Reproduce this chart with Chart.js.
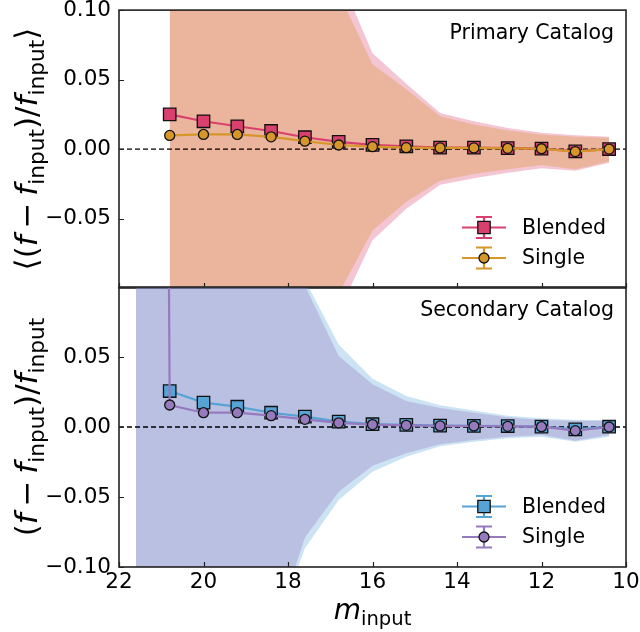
<!DOCTYPE html>
<html>
<head>
<meta charset="utf-8">
<script src="https://cdn.jsdelivr.net/npm/chart.js@4.4.1/dist/chart.umd.min.js"></script>
<style>
html, body { margin: 0; padding: 0; background: #fff; }
#wrap { position: relative; width: 640px; height: 632px; }
#wrap canvas { position: absolute; left: 0; top: 0; }
</style>
</head>
<body>
<div id="wrap">
<canvas id="primaryChart" width="640" height="632"></canvas>
<canvas id="secondaryChart" width="640" height="632"></canvas>
</div>
<script>
// input magnitude bins (x)
const mags = [21.6, 20.8, 20.0, 19.2, 18.4, 17.6, 16.8, 16.0, 15.2, 14.4, 13.6, 12.8, 12.0, 11.2, 10.4];
const xTicks = [22, 20, 18, 16, 14, 12, 10];
const yTicksPrimary = [-0.05, 0, 0.05, 0.10];
const yTicksSecondary = [-0.10, -0.05, 0, 0.05];

// Primary catalog: mean offsets and scatter bands
const primaryBlended = [null, 0.025, 0.020, 0.0164, 0.013, 0.0085, 0.0052, 0.003, 0.002, 0.001, 0.001, 0.0007, 0.0003, -0.0017, 0.0];
const primarySingle = [null, 0.0098, 0.0105, 0.0105, 0.0088, 0.0057, 0.0029, 0.0017, 0.001, 0.0008, 0.0008, 0.0005, 0.0002, -0.0018, 0.0];
const primaryBlendedUpper = [null, 2.0, 1.4, 0.95, 0.6, 0.32, 0.126, 0.069, 0.047, 0.026, 0.020, 0.0152, 0.0117, 0.010, 0.0088];
const primaryBlendedLower = [null, -2.0, -1.4, -0.95, -0.6, -0.31, -0.117, -0.0657, -0.043, -0.0257, -0.021, -0.017, -0.0138, -0.0157, -0.0098];
const primarySingleUpper = [null, 1.7, 1.2, 0.8, 0.5, 0.27, 0.112, 0.061, 0.043, 0.0236, 0.0176, 0.0133, 0.0105, 0.0088, 0.0081];
const primarySingleLower = [null, -1.7, -1.2, -0.8, -0.5, -0.26, -0.104, -0.0586, -0.038, -0.0229, -0.018, -0.0145, -0.0114, -0.0145, -0.009];

// Secondary catalog
const secondaryBlended = [null, 0.0257, 0.0174, 0.0145, 0.0102, 0.0074, 0.0038, 0.002, 0.0015, 0.001, 0.0008, 0.0007, 0.0003, -0.0017, 0.0002];
const secondarySingle = [4.0, 0.0157, 0.0102, 0.0102, 0.0081, 0.0055, 0.003, 0.0017, 0.0012, 0.0008, 0.0007, 0.0005, 0.0002, -0.0026, 0.0];
const secondaryBlendedUpper = [6, 5, 3, 1.5, 0.5, 0.105, 0.059, 0.0345, 0.0221, 0.0155, 0.0117, 0.0081, 0.0062, 0.005, 0.005];
const secondaryBlendedLower = [-6, -5, -3, -1.5, -0.154, -0.0866, -0.0521, -0.0319, -0.0212, -0.0137, -0.0105, -0.0081, -0.0069, -0.0105, -0.0069];
const secondarySingleUpper = [6, 5, 3, 1.5, 0.4, 0.101, 0.0507, 0.0305, 0.0186, 0.0135, 0.0102, 0.0069, 0.005, 0.0045, 0.0045];
const secondarySingleLower = [-6, -5, -3, -1.5, -0.152, -0.079, -0.0462, -0.0276, -0.0188, -0.0123, -0.0093, -0.0069, -0.0057, -0.0098, -0.0057];

const FONT = "'DejaVu Sans', sans-serif";
const TICK_SIZE = 21.5;
const xMin = 10, xMax = 22;

const pts = ys => mags.map((m, i) => ({ x: m, y: ys[i] }));
const rgba = (c, a) => `rgba(${c[0]},${c[1]},${c[2]},${a})`;

function fmtTick(v) {
  if (Math.abs(v) < 1e-9) return '0.00';
  return (v < 0 ? '\u2212' : '') + Math.abs(v).toFixed(2);
}

function band(upper, lower, color, alpha, order) {
  return [
    { data: pts(upper), fill: '+1', backgroundColor: rgba(color, alpha), borderColor: 'rgba(0,0,0,0)', borderWidth: 0, pointRadius: 0, order },
    { data: pts(lower), fill: false, borderColor: 'rgba(0,0,0,0)', borderWidth: 0, pointRadius: 0, order }
  ];
}

function series(ys, color, style, radius, order) {
  return {
    data: pts(ys), borderColor: rgba(color, 1), borderWidth: 2.2, tension: 0, fill: false,
    pointStyle: style, pointRadius: radius, pointBackgroundColor: rgba(color, 1),
    pointBorderColor: '#111', pointBorderWidth: 1.3, order
  };
}

function zeroLine() {
  return { data: [{ x: xMax, y: 0 }, { x: xMin, y: 0 }], borderColor: '#000', borderWidth: 1.3,
           borderDash: [5, 3], pointRadius: 0, fill: false, order: 5 };
}

// math-style text: runs of {t, it, sub, gap}
function drawMath(ctx, runs, size, x, y, rotate) {
  const sub = size * 0.7;
  const fontOf = r => `${r.it ? 'italic ' : ''}${r.sub ? sub : size}px ${FONT}`;
  let total = 0;
  runs.forEach(r => { ctx.font = fontOf(r); total += ctx.measureText(r.t).width + (r.gap || 0) * size; });
  ctx.save();
  ctx.translate(x, y);
  if (rotate) ctx.rotate(-Math.PI / 2);
  ctx.fillStyle = '#000';
  ctx.textBaseline = 'alphabetic';
  ctx.textAlign = 'left';
  let cx = -total / 2;
  runs.forEach(r => {
    ctx.font = fontOf(r);
    const g = (r.gap || 0) * size;
    ctx.fillText(r.t, cx + g / 2, r.sub ? size * 0.22 : 0);
    cx += ctx.measureText(r.t).width + g;
  });
  ctx.restore();
}

const fracRuns = [
  { t: '(' }, { t: 'f', it: true }, { t: '\u2212', gap: 0.44 }, { t: 'f', it: true }, { t: 'input', sub: true },
  { t: ')' }, { t: '/' }, { t: 'f', it: true }, { t: 'input', sub: true }
];

const overlay = {
  id: 'overlay',
  afterDraw(chart, args, o) {
    const { ctx, chartArea: a, scales } = chart;
    ctx.save();
    ctx.strokeStyle = '#222';
    ctx.lineWidth = 1.2;
    ctx.beginPath();
    xTicks.forEach(v => {
      const px = Math.round(scales.x.getPixelForValue(v)) + 0.5;
      ctx.moveTo(px, a.bottom); ctx.lineTo(px, a.bottom - 5);
    });
    o.yTicks.forEach(v => {
      const py = Math.round(scales.y.getPixelForValue(v)) + 0.5;
      ctx.moveTo(a.left, py); ctx.lineTo(a.left + 5, py);
    });
    ctx.stroke();
    ctx.lineWidth = 1.6;
    ctx.strokeRect(a.left, a.top, a.right - a.left, a.bottom - a.top);

    // panel title
    ctx.fillStyle = '#000';
    ctx.font = `20.5px ${FONT}`;
    ctx.textAlign = 'right';
    ctx.textBaseline = 'middle';
    ctx.fillText(o.title, a.right - 12, a.top + 24);

    // legend
    o.legend.forEach((e, i) => {
      const cx = a.right - 142, cy = a.bottom - 60.5 + i * 30.5;
      ctx.strokeStyle = rgba(e.color, 1);
      ctx.lineWidth = 2.2;
      ctx.beginPath();
      ctx.moveTo(cx - 22, cy); ctx.lineTo(cx + 22, cy);
      ctx.moveTo(cx, cy - 10.5); ctx.lineTo(cx, cy + 10.5);
      ctx.moveTo(cx - 8, cy - 10.5); ctx.lineTo(cx + 8, cy - 10.5);
      ctx.moveTo(cx - 8, cy + 10.5); ctx.lineTo(cx + 8, cy + 10.5);
      ctx.stroke();
      ctx.fillStyle = rgba(e.color, 1);
      ctx.strokeStyle = '#111';
      ctx.lineWidth = 1.3;
      ctx.beginPath();
      if (e.style === 'rect') ctx.rect(cx - 6.2, cy - 6.2, 12.4, 12.4);
      else ctx.arc(cx, cy, 5, 0, Math.PI * 2);
      ctx.fill(); ctx.stroke();
      ctx.fillStyle = '#000';
      ctx.font = `20.5px ${FONT}`;
      ctx.textAlign = 'left';
      ctx.textBaseline = 'middle';
      ctx.fillText(e.label, cx + 38, cy + 1);
    });

    // axis labels
    const ym = (a.top + a.bottom) / 2;
    drawMath(ctx, o.yLabel, 31, 37, ym, true);
    if (o.xLabel) {
      drawMath(ctx, [{ t: 'm', it: true }, { t: 'input', sub: true }], 28, (a.left + a.right) / 2, 619, false);
    }
    ctx.restore();
  }
};

function makeOptions(yTicks, padTop, xHeight, showX, extra) {
  return {
    responsive: false, animation: false, devicePixelRatio: 1,
    layout: { padding: { left: 0, right: 14, top: padTop, bottom: 0 } },
    plugins: { legend: { display: false }, tooltip: { enabled: false }, overlay: Object.assign({ yTicks }, extra) },
    scales: {
      x: {
        type: 'linear', reverse: true, min: xMin, max: xMax,
        afterBuildTicks: s => { s.ticks = xTicks.map(v => ({ value: v })); },
        afterFit: s => { s.height = xHeight; s.paddingLeft = 0; s.paddingRight = 0; },
        grid: { display: false, drawTicks: false }, border: { display: false },
        ticks: { display: showX, color: '#000', font: { family: FONT, size: TICK_SIZE }, padding: 3,
                 autoSkip: false, maxRotation: 0, callback: v => String(v) }
      },
      y: {
        type: 'linear', min: -0.1, max: 0.1,
        afterBuildTicks: s => { s.ticks = yTicks.map(v => ({ value: v })); },
        afterFit: s => { s.width = 119; s.paddingTop = 0; s.paddingBottom = 0; },
        grid: { display: false, drawTicks: false }, border: { display: false },
        ticks: { color: '#000', font: { family: FONT, size: TICK_SIZE }, padding: 8, callback: fmtTick }
      }
    }
  };
}

const pink = [217, 64, 110], gold = [214, 150, 42], blue = [86, 163, 214], purple = [150, 122, 190];

new Chart(document.getElementById('primaryChart'), {
  type: 'line',
  data: {
    datasets: [
      ...band(primaryBlendedUpper, primaryBlendedLower, pink, 0.3, 12),
      ...band(primarySingleUpper, primarySingleLower, gold, 0.33, 11),
      zeroLine(),
      series(primaryBlended, pink, 'rect', 8.8, 2),
      series(primarySingle, gold, 'circle', 5, 1)
    ]
  },
  options: makeOptions(yTicksPrimary, 8, 344, false, {
    title: 'Primary Catalog',
    legend: [{ label: 'Blended', color: pink, style: 'rect' }, { label: 'Single', color: gold, style: 'circle' }],
    yLabel: [{ t: '\u27E8' }].concat(fracRuns, [{ t: '\u27E9' }])
  }),
  plugins: [overlay]
});

new Chart(document.getElementById('secondaryChart'), {
  type: 'line',
  data: {
    datasets: [
      ...band(secondaryBlendedUpper, secondaryBlendedLower, blue, 0.3, 12),
      ...band(secondarySingleUpper, secondarySingleLower, purple, 0.33, 11),
      zeroLine(),
      series(secondaryBlended, blue, 'rect', 8.8, 2),
      series(secondarySingle, purple, 'circle', 5, 1)
    ]
  },
  options: makeOptions(yTicksSecondary, 287, 65, true, {
    title: 'Secondary Catalog',
    legend: [{ label: 'Blended', color: blue, style: 'rect' }, { label: 'Single', color: purple, style: 'circle' }],
    yLabel: fracRuns,
    xLabel: true
  }),
  plugins: [overlay]
});
</script>
</body>
</html>
